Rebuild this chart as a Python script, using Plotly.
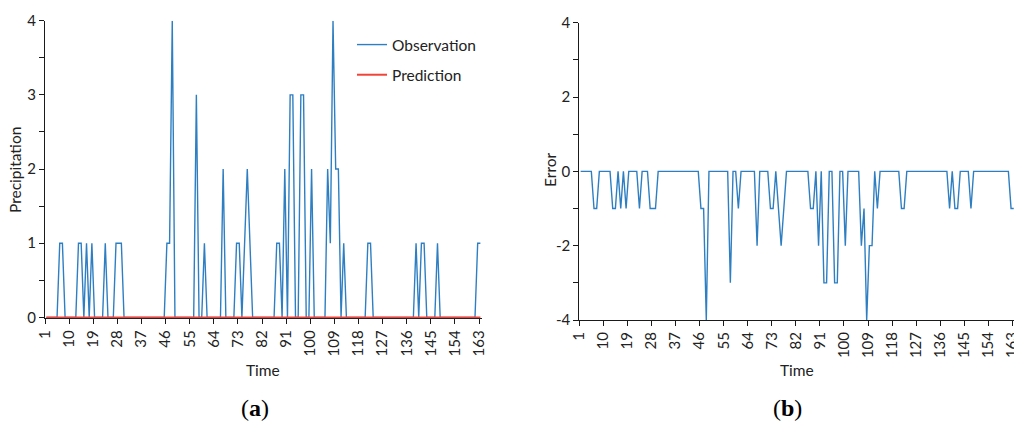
import plotly.graph_objects as go

# ---- data ----
time = list(range(1, 164))

observation = [
    0, 0, 0, 0, 0, 1, 1, 0, 0, 0,
    0, 0, 1, 1, 0, 1, 0, 1, 0, 0,
    0, 0, 1, 0, 0, 0, 1, 1, 1, 0,
    0, 0, 0, 0, 0, 0, 0, 0, 0, 0,
    0, 0, 0, 0, 0, 1, 1, 4, 0, 0,
    0, 0, 0, 0, 0, 0, 3, 0, 0, 1,
    0, 0, 0, 0, 0, 0, 2, 0, 0, 0,
    0, 1, 1, 0, 1, 2, 1, 0, 0, 0,
    0, 0, 0, 0, 0, 0, 1, 1, 0, 2,
    0, 3, 3, 0, 0, 3, 3, 0, 0, 2,
    0, 0, 0, 0, 0, 2, 1, 4, 2, 2,
    0, 1, 0, 0, 0, 0, 0, 0, 0, 0,
    1, 1, 0, 0, 0, 0, 0, 0, 0, 0,
    0, 0, 0, 0, 0, 0, 0, 0, 1, 0,
    1, 1, 0, 0, 0, 0, 1, 0, 0, 0,
    0, 0, 0, 0, 0, 0, 0, 0, 0, 0,
    0, 1, 1,
]

prediction = [0] * 163

error = [
    0, 0, 0, 0, 0, -1, -1, 0, 0, 0,
    0, 0, -1, -1, 0, -1, 0, -1, 0, 0,
    0, 0, -1, 0, 0, 0, -1, -1, -1, 0,
    0, 0, 0, 0, 0, 0, 0, 0, 0, 0,
    0, 0, 0, 0, 0, -1, -1, -4, 0, 0,
    0, 0, 0, 0, 0, 0, -3, 0, 0, -1,
    0, 0, 0, 0, 0, 0, -2, 0, 0, 0,
    0, -1, -1, 0, -1, -2, -1, 0, 0, 0,
    0, 0, 0, 0, 0, 0, -1, -1, 0, -2,
    0, -3, -3, 0, 0, -3, -3, 0, 0, -2,
    0, 0, 0, 0, 0, -2, -1, -4, -2, -2,
    0, -1, 0, 0, 0, 0, 0, 0, 0, 0,
    -1, -1, 0, 0, 0, 0, 0, 0, 0, 0,
    0, 0, 0, 0, 0, 0, 0, 0, -1, 0,
    -1, -1, 0, 0, 0, 0, -1, 0, 0, 0,
    0, 0, 0, 0, 0, 0, 0, 0, 0, 0,
    0, -1, -1,
]

tick_labels = [1, 10, 19, 28, 37, 46, 55, 64, 73, 82, 91, 100, 109, 118, 127, 136, 145, 154, 163]
precip_ticks = [0, 1, 2, 3, 4]
error_ticks = [-4, -2, 0, 2, 4]

BLUE = "#2E7EC2"
RED = "#F0443A"
AX = "#1a1a1a"
FONT = "Lato"

W, H = 1014, 423

fig = go.Figure()
fig.add_trace(go.Scatter(x=time, y=observation, mode="lines", name="Observation",
                         line=dict(color=BLUE, width=1.4), xaxis="x", yaxis="y",
                         legendgroup="a"))
fig.add_trace(go.Scatter(x=time, y=prediction, mode="lines", name="Prediction",
                         line=dict(color=RED, width=2), xaxis="x", yaxis="y",
                         legendgroup="b"))
fig.add_trace(go.Scatter(x=time, y=error, mode="lines", name="Error",
                         line=dict(color=BLUE, width=1.4), xaxis="x2", yaxis="y2",
                         showlegend=False))

tickvals = [t - 0.5 for t in tick_labels]
ticktext = [str(t) for t in tick_labels]

xcommon = dict(
    tickmode="array", tickvals=tickvals, ticktext=ticktext, tickangle=-90,
    showgrid=False, zeroline=False, showline=True, linecolor=AX, linewidth=1,
    ticks="outside", ticklen=5, tickcolor=AX, tickwidth=1,
    tickfont=dict(family=FONT, size=15, color="#222"),
    layer="below traces", fixedrange=True, automargin=False,
    ticklabeloverflow="allow",
)
ycommon = dict(
    showgrid=False, zeroline=False, showline=True, linecolor=AX, linewidth=1,
    ticks="outside", ticklen=5, tickcolor=AX, tickwidth=1,
    tickfont=dict(family=FONT, size=15, color="#222"),
    layer="below traces", fixedrange=True, automargin=False,
)

fig.update_layout(
    width=W, height=H,
    margin=dict(l=0, r=0, t=0, b=0, pad=0, autoexpand=False),
    paper_bgcolor="white", plot_bgcolor="white",
    font=dict(family=FONT, size=15, color="#222"),
    xaxis=dict(domain=[45 / W, 481.7 / W], range=[0.5, 163.5], anchor="y", **xcommon),
    yaxis=dict(domain=[(H - 318.3) / H, (H - 20.7) / H], range=[-0.012, 4.0], anchor="x",
               tickmode="array", tickvals=precip_ticks,
               ticktext=[str(v) for v in precip_ticks],
               minor=dict(ticks="outside", dtick=0.5, tick0=0, ticklen=5, tickcolor=AX,
                          showgrid=False),
               **ycommon),
    xaxis2=dict(domain=[579.3 / W, 1.0], range=[0.5, 163.1], anchor="y2", **xcommon),
    yaxis2=dict(domain=[(H - 320) / H, (H - 22.7) / H], range=[-4, 4], anchor="x2",
                tickmode="array", tickvals=error_ticks,
                ticktext=[str(v) for v in error_ticks],
                minor=dict(ticks="outside", dtick=1, ticklen=5, tickcolor=AX, showgrid=False),
                **ycommon),
    legend=dict(x=352 / W, y=1 - 28 / H, xanchor="left", yanchor="top",
                bgcolor="rgba(0,0,0,0)", font=dict(family=FONT, size=15.5, color="#222"),
                tracegroupgap=7, traceorder="grouped"),
    showlegend=True,
)

annotations = [
    dict(text="Precipitation", x=15 / W, y=1 - 170 / H, textangle=-90),
    dict(text="Error", x=550 / W, y=1 - 170 / H, textangle=-90),
    dict(text="Time", x=263 / W, y=1 - 370 / H),
    dict(text="Time", x=797 / W, y=1 - 370 / H),
]
for a in annotations:
    fig.add_annotation(xref="paper", yref="paper", showarrow=False,
                       xanchor="center", yanchor="middle",
                       font=dict(family=FONT, size=15.5, color="#222"), **a)

for lbl, xc in (("(<b>a</b>)", 255), ("(<b>b</b>)", 787)):
    fig.add_annotation(text=lbl, x=xc / W, y=1 - 408 / H, xref="paper", yref="paper",
                       showarrow=False, xanchor="center", yanchor="middle",
                       font=dict(family="Liberation Serif", size=24, color="black"))

fig.write_html("out.html", config={"displayModeBar": False},
               post_script="document.body.style.margin='0px';")
